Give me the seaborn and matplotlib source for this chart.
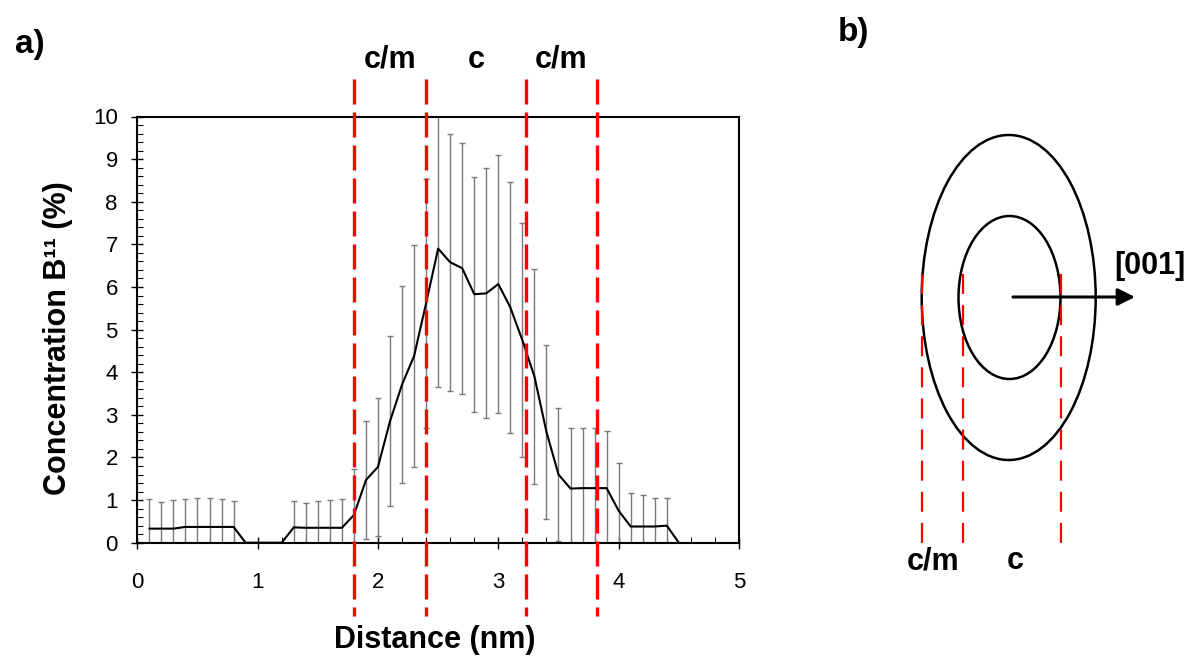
import numpy as np
import pandas as pd
import matplotlib
matplotlib.use('Agg')
import matplotlib.pyplot as plt
import seaborn as sns
from matplotlib.patches import Ellipse

# perfil de concentracao B11 ao longo da distancia (nm)
distance = [0.1, 0.2, 0.3, 0.4, 0.5, 0.6, 0.7, 0.8, 0.9, 1.0, 1.1, 1.2,
            1.3, 1.4, 1.5, 1.6, 1.7, 1.8, 1.9, 2.0, 2.1, 2.2, 2.3, 2.4,
            2.5, 2.6, 2.7, 2.8, 2.9, 3.0, 3.1, 3.2, 3.3, 3.4, 3.5, 3.6,
            3.7, 3.8, 3.9, 4.0, 4.1, 4.2, 4.3, 4.4, 4.5]
concentration = [0.33, 0.33, 0.33, 0.37, 0.37, 0.37, 0.37, 0.37, 0.0, 0.0, 0.0, 0.0,
                 0.36, 0.35, 0.35, 0.35, 0.35, 0.65, 1.47, 1.78, 2.85, 3.71, 4.38, 5.62,
                 6.90, 6.58, 6.44, 5.83, 5.85, 6.07, 5.52, 4.75, 3.90, 2.60, 1.60, 1.27,
                 1.28, 1.28, 1.28, 0.75, 0.38, 0.38, 0.38, 0.40, 0.0]
# desvio (None = sem barra de erro)
error = [0.70, 0.63, 0.67, 0.66, 0.69, 0.69, 0.66, 0.60, None, None, None, None,
         0.61, 0.59, 0.62, 0.65, 0.68, 1.07, 1.39, 1.62, 1.99, 2.32, 2.60, 2.92,
         3.25, 3.01, 2.94, 2.76, 2.93, 3.02, 2.95, 2.75, 2.52, 2.05, 1.55, 1.43,
         1.42, 1.42, 1.35, 1.11, 0.78, 0.74, 0.68, 0.66, None]

# limites das regioes (nm) e nomes
boundaries = [1.8, 2.4, 3.23, 3.82]
zone_labels = ['c/m', 'c', 'c/m']

W, H = 1194, 659

df = pd.DataFrame({'Distance': distance, 'Concentration': concentration, 'Error': error})
df['Error'] = pd.to_numeric(df['Error'], errors='coerce')

sns.set_style('ticks')
plt.rcParams['font.family'] = ['Liberation Sans', 'DejaVu Sans']
plt.rcParams['text.color'] = 'black'
plt.rcParams['axes.labelcolor'] = 'black'

fig = plt.figure(figsize=(W / 100, H / 100), dpi=100)
ax = fig.add_axes([137.3 / W, 1 - 542.7 / H, 601.7 / W, 426.2 / H])

sns.lineplot(data=df, x='Distance', y='Concentration', color='black', linewidth=1.5, ax=ax, zorder=3)
bars = df.dropna(subset=['Error'])
ax.errorbar(bars['Distance'], bars['Concentration'], yerr=bars['Error'], fmt='none',
            ecolor='#7a7a7a', elinewidth=1.0, capsize=2.5, capthick=1.0, zorder=2)

ax.set_xlim(0, 5)
ax.set_ylim(0, 10)
ax.set_xticks(np.arange(0, 6, 1))
ax.set_yticks(np.arange(0, 11, 1))
ax.set_xticks(np.arange(0, 5.01, 0.2), minor=True)
ax.set_yticks(np.arange(0, 10.01, 0.2), minor=True)
ax.tick_params(axis='x', which='major', direction='inout', length=8, width=1, labelsize=16, pad=17, colors='black')
ax.tick_params(axis='y', which='major', direction='inout', length=8, width=1, labelsize=16, pad=10, colors='black')
ax.tick_params(which='minor', direction='in', length=4, width=0.8, colors='black')
for s in ax.spines.values():
    s.set_linewidth(1.5)
    s.set_color('black')

ax.set_xlabel('Distance (nm)', fontsize=22, fontweight='bold', va='center', color='black')
ax.set_ylabel('Concentration B\u00b9\u00b9 (%)', fontsize=22, fontweight='bold', va='center', color='black')
ax.xaxis.set_label_coords(0.494, -0.228)
ax.yaxis.set_label_coords(-0.132, 0.48)

# linhas tracejadas vermelhas das regioes
for b in boundaries:
    ax.plot([b, b], [1.088, -0.172], transform=ax.get_xaxis_transform(), color='red',
            lw=2.4, ls=(0, (7.5, 2.4)), clip_on=False, zorder=5)
for i, lab in enumerate(zone_labels):
    mid = (boundaries[i] + boundaries[i + 1]) / 2
    ax.text(mid, 1.133, lab, transform=ax.get_xaxis_transform(), ha='center', va='center',
            fontsize=22, fontweight='bold', color='black')

fig.text(30 / W, 1 - 45 / H, 'a)', fontsize=24, fontweight='bold', ha='center', va='center', color='black')
fig.text(853 / W, 1 - 33 / H, 'b)', fontsize=24, fontweight='bold', ha='center', va='center', color='black')

# esquema b) em coordenadas de pixel
axb = fig.add_axes([0, 0, 1, 1], zorder=10)
axb.set_xlim(0, W)
axb.set_ylim(H, 0)
axb.axis('off')
axb.patch.set_alpha(0)
axb.add_patch(Ellipse((1008.7, 297.5), 174, 325, fill=False, lw=1.8, ec='black'))
axb.add_patch(Ellipse((1009.5, 297.5), 102, 163, fill=False, lw=1.8, ec='black'))
for xl in [921.7, 962.7, 1060.7]:
    axb.plot([xl, xl], [274, 548], color='red', lw=1.6, ls=(0, (9, 5)), zorder=4)
axb.annotate('', xy=(1135, 297), xytext=(1013, 297),
             arrowprops=dict(arrowstyle='-|>', lw=2.2, color='black', mutation_scale=26,
                             shrinkA=0, shrinkB=0))
axb.text(1150, 266, '[001]', fontsize=22, fontweight='bold', ha='center', va='center', color='black')
axb.text(933, 561, 'c/m', fontsize=22, fontweight='bold', ha='center', va='center', color='black')
axb.text(1015, 561, 'c', fontsize=22, fontweight='bold', ha='center', va='center', color='black')

plt.savefig('out.png', dpi=100)
